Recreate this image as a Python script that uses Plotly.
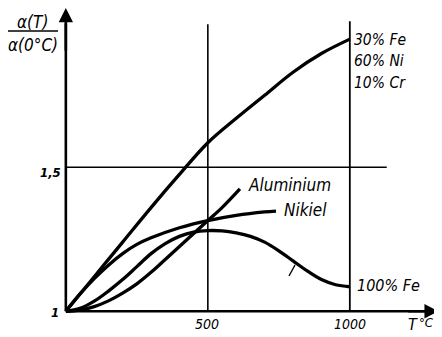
import plotly.graph_objects as go

# ---- data ----
T_fenicr = [0, 100, 200, 300, 400, 500, 600, 700, 800, 900, 1000]
y_fenicr = [1.0, 1.12, 1.24, 1.36, 1.475, 1.585, 1.67, 1.75, 1.83, 1.895, 1.945]

T_al = [0, 50, 100, 150, 200, 250, 300, 350, 400, 450, 500, 550, 613]
y_al = [1.0, 1.004, 1.016, 1.036, 1.063, 1.095, 1.135, 1.18, 1.225, 1.27, 1.315, 1.36, 1.425]

T_ni = [0, 50, 100, 150, 200, 250, 300, 400, 500, 600, 700, 740]
y_ni = [1.0, 1.06, 1.113, 1.16, 1.2, 1.232, 1.255, 1.29, 1.315, 1.333, 1.345, 1.348]

T_fe = [0, 50, 100, 150, 200, 250, 300, 350, 400, 450, 500, 550, 600, 650, 700, 750, 800, 850, 900, 950, 1000]
y_fe = [1.0, 1.01, 1.035, 1.07, 1.11, 1.155, 1.2, 1.235, 1.26, 1.275, 1.28, 1.279, 1.272, 1.26, 1.24, 1.21,
        1.175, 1.14, 1.11, 1.092, 1.085]

grid_T = [500, 1000]
grid_y = [1.5]
tick_T_labels = ["500", "1000"]
tick_y_labels = ["1", "1,5"]

# ---- layout geometry (page body has an 8px margin) ----
OFF = 8
W, H = 434, 329
L, R, TOP, B = 55, 2, 0, 20
xr = [-10, 1317.5]
yr = [0.98, 0.98 + 309 / 287.96]

FONT = "DejaVu Sans Condensed, Liberation Sans Narrow, sans-serif"


def px(xp, yp):
    """reference-picture pixel -> paper coords"""
    xp -= OFF
    yp -= OFF
    return (xp - L) / (W - L - R), (H - B - yp) / (H - TOP - B)


fig = go.Figure()
for T, y in [(T_fenicr, y_fenicr), (T_al, y_al), (T_ni, y_ni), (T_fe, y_fe)]:
    fig.add_trace(go.Scatter(x=T, y=y, mode="lines", line=dict(color="black", width=3.3, shape="spline"),
                             hoverinfo="skip", showlegend=False))

shapes = []
# reference lines
shapes.append(dict(type="line", x0=grid_T[0], x1=grid_T[0], y0=1.0, y1=1.997, xref="x", yref="y",
                   line=dict(color="black", width=1.6)))
shapes.append(dict(type="line", x0=grid_T[1], x1=grid_T[1], y0=1.0, y1=2.007, xref="x", yref="y",
                   line=dict(color="black", width=1.8)))
shapes.append(dict(type="line", x0=0, x1=1130, y0=grid_y[0], y1=grid_y[0], xref="x", yref="y",
                   line=dict(color="black", width=1.6)))
# axes
shapes.append(dict(type="line", x0=0, x1=1290, y0=1.0, y1=1.0, xref="x", yref="y",
                   line=dict(color="black", width=2.6)))
shapes.append(dict(type="line", x0=0, x1=0, y0=1.0, y1=2.0, xref="x", yref="y",
                   line=dict(color="black", width=2.6)))
# fraction bar
fx0, fy = px(7, 31)
fx1, _ = px(58, 31)
shapes.append(dict(type="line", x0=fx0, x1=fx1, y0=fy, y1=fy, xref="paper", yref="paper",
                   line=dict(color="black", width=1.3)))
# small leader tick on Fe curve
a0 = px(289, 276)
a1 = px(295, 265)
shapes.append(dict(type="line", x0=a0[0], x1=a1[0], y0=a0[1], y1=a1[1], xref="paper", yref="paper",
                   line=dict(color="black", width=1.4)))

ann = []
# axis arrows
ann.append(dict(x=0, y=yr[1], ax=0, ay=1.9, xref="x", yref="y", axref="x", ayref="y", showarrow=True,
                arrowhead=2, arrowsize=1.1, arrowwidth=2.6, arrowcolor="black", text=""))
ann.append(dict(x=1313, y=1.0, ax=1200, ay=1.0, xref="x", yref="y", axref="x", ayref="y", showarrow=True,
                arrowhead=2, arrowsize=1.1, arrowwidth=2.6, arrowcolor="black", text=""))


def text(t, xp, yp, size, xanchor="center", weight="normal"):
    x, y = px(xp, yp)
    ann.append(dict(text=t, x=x, y=y, xref="paper", yref="paper", xanchor=xanchor, yanchor="middle",
                    showarrow=False, font=dict(family=FONT, size=size, color="black", style="italic",
                                               weight=weight)))


text("α(T)", 32, 22, 17)
text("α(0°C)", 33, 45, 17)
text("30% Fe", 352, 40, 15.5, "left")
text("60% Ni", 352, 61, 15.5, "left")
text("10% Cr", 352, 83, 15.5, "left")
text("Aluminium", 246, 185, 17, "left")
text("Nikiel", 282, 210, 17, "left")
text("100% Fe", 355, 285, 16, "left")
text(tick_T_labels[0], 207, 324, 14)
text(tick_T_labels[1], 350, 324, 14)
text("T", 413, 324, 16)
text("°C", 417, 322, 13, "left")
text(tick_y_labels[0], 55, 312, 13, weight="bold")
text(tick_y_labels[1], 50, 172, 13, weight="bold")

fig.update_layout(
    width=W, height=H, margin=dict(l=L, r=R, t=TOP, b=B),
    paper_bgcolor="white", plot_bgcolor="white",
    xaxis=dict(range=xr, visible=False, fixedrange=True),
    yaxis=dict(range=yr, visible=False, fixedrange=True),
    shapes=shapes, annotations=ann, showlegend=False,
)
fig.write_html("out.html")
